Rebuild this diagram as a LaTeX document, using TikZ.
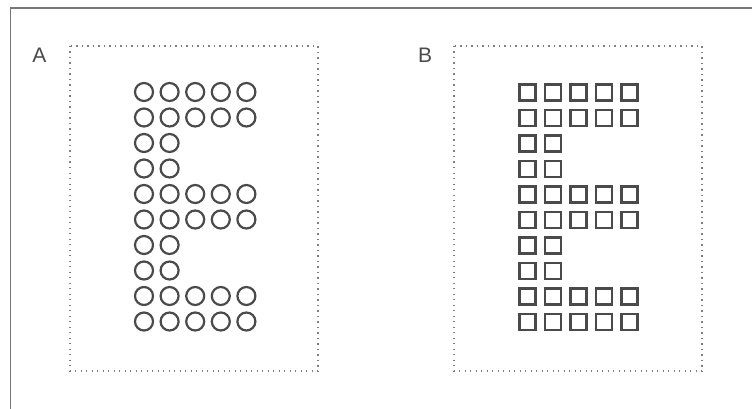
\documentclass[tikz,border=0pt]{standalone}
\usepackage{fontspec}
\setmainfont{Liberation Sans}
\definecolor{ink}{HTML}{4A4A4A}
\definecolor{frame}{HTML}{777777}
\definecolor{dotc}{HTML}{808080}
\begin{document}
\begin{tikzpicture}[x=1pt,y=-1pt,
  panel/.style={draw=dotc, line width=1.5pt, dash pattern=on 1.3pt off 4.2pt},
  dotcircle/.style={circle, draw=ink, line width=2.2pt, minimum size=18pt, inner sep=0pt},
  dotsquare/.style={rectangle, draw=ink, line width=2.4pt, minimum size=16pt, inner sep=0pt},
  letter/.style={font=\fontsize{21}{21}\selectfont, text=ink, inner sep=0pt}]
  \useasboundingbox (0,0) rectangle (752,409);
  \fill[white] (0,0) rectangle (752,409);
  % outer frame: only the top and left edges show
  \draw[frame, line width=1.4pt] (10.5,409) -- (10.5,8) -- (752,8);
  % panels
  \draw[panel] (70,46) rectangle (318,371);
  \draw[panel] (454,46) rectangle (702,371);
  \node[letter] (labA) at (39.5,55) {A};
  \node[letter] (labB) at (425,55) {B};
  % letter E built from marks: row widths
  \foreach \r/\n in {0/5,1/5,2/2,3/2,4/5,5/5,6/2,7/2,8/5,9/5}{
    \foreach \c in {1,...,\n}{
      \node[dotcircle] (circ-\r-\c) at ({144+(\c-1)*25.6},{92+\r*25.5}) {};
      \node[dotsquare] (sq-\r-\c) at ({527.5+(\c-1)*25.5},{92.5+\r*25.5}) {};
    }
  }
\end{tikzpicture}
\end{document}
